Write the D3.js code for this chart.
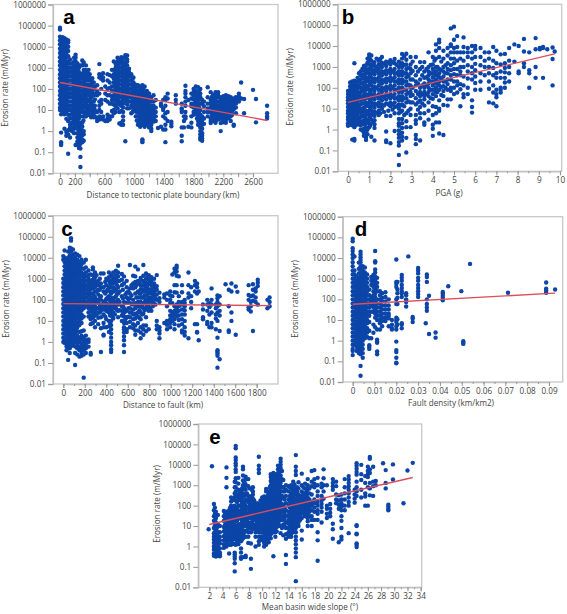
<!DOCTYPE html>
<html><head><meta charset="utf-8">
<script src="https://cdn.jsdelivr.net/npm/d3@7"></script>
<style>
html,body{margin:0;padding:0;background:#fff}
svg{display:block}
text{font-family:"Open Sans","Noto Sans",sans-serif;fill:#444}
</style></head><body><svg id="c" width="567" height="614"></svg>
<script>
const yTicks=[0.01,0.1,1,10,100,1000,10000,100000,1000000];
const yTitle="Erosion rate (m/Myr)";

// Each column: [x, rate, rate, ...]
const colsA=[
[0,80000,65000,30000,20000,13000,8000,5000,3200,2000,1300,800,500,320,200,130,80,50,32,20,13,10],
[15,25000,16000,10000,6300,4000,2500,1600,1000,630,400,250,160,100,63,40,25,16,10,6.3,.85,.3,.25,.22],
[35,28000,20000,13000,8000,5000,3200,2000,1300,800,500,320,200,130,80,50,32,20,13,8],
[60,25000,16000,10000,6300,4000,2500,1600,1000,630,400,250,160,100,63,40,25,16,10,6.3,1.3],
[85,22000,13000,8000,5000,3200,2000,1300,800,500,320,200,130,80,50,32,20,13,8,3.8,.9,.6],
[110,20000,16000,10000,6300,3500,2000,1600,1000,630,400,250,160,100,63,40,25,16,10,6,3,1.1,.7,.085],
[135,2500,1600,1000,630,400,250,160,100,63,40,25,16,10,6,4,2,1.4,.5],
[160,1600,1000,630,400,250,160,100,63,40,25,16,10,6.5,4,2.5,1.5,1],
[190,3000,2000,1300,800,500,320,200,130,80,50,32,20,13,8,5,3.2,2,1.3,.8],
[210,4200,3000,2000,1000,630,400,250,160,100,63,40,25,16,10,6.3,4,2.5,1.6,.22],
[235,1600,1300,800,500,320,200,130,80,50,32,20,13,8,5,3.2,2,1.3,.8,.5,.32,.25],
[255,1000,630,400,250,160,100,63,40,25,16,10,6.3,4,2.5,1.6,1,.63,.4,.3,.2,.16],
[275,1300,500,320,200,130,80,50,32,20,13,8,5,2.5,2,1.3,.8,.5,.32,.25,.15,.06,.02],
[300,2200,1300,500,320,200,130,80,40,25,16,10,2.5,1.6,1,.63,.4,.3],
[320,1800,800,400,200,100,63,32,16,8,5,1,.7,.35],
[350,1300,500,250,160,100,50,32,20,13,7,5],
[385,800,400,250,130,80,50,25,13,8,6],
[420,250,160,100,60,40,20,10,6,4.5],
[455,200,100,50,25,13,7,4.5],
[500,150,80,50,8,4,3],
[530,1500,500,350,60,25,16,10,5,3.5],
[555,400,300,100,30,20,8,4],
[580,550,350,250,5,3.5],
[610,130,60,30,3],
[640,500,250,100,50,25,6,4,3],
[670,450,200,110,50,20,5,3.5],
[700,800,400,130,80,45,30,20,9,5],
[725,2000,800,500,300,200,130,80,50,32,18,10,7],
[750,1500,1000,630,400,250,160,100,63,40,25,15,8],
[775,3000,2000,1300,800,500,320,200,130,80,50,32,20,12],
[800,2200,1600,1000,630,400,250,160,100,63,40,25,18,8,2.3],
[825,3200,2500,1600,1000,630,400,250,160,100,63,40,25,16,9,2,2.5],
[850,3000,2000,1300,800,500,320,200,130,80,50,32,20,13,8,5,3.2,2],
[880,4000,3000,1600,1000,630,400,250,160,100,63,40,25,.33],
[905,3800,2500,2000,1300,800,500,320,200,130,80,50,30,18,12],
[930,900,630,400,250,160,100,63,40,25,12],
[960,500,400,250,160,100,63,40,25,16,7],
[990,350,200,130,80,50,30,20,10],
[1020,160,100,63,40,25,15,9,5],
[1050,150,80,50,32,20,12,8,5,3,2],
[1080,130,100,63,40,25,16,10,6.3,4,2.5,1.6],
[1110,150,80,50,32,20,13,8,5,3.2,2,.4,.35,.3],
[1140,130,63,40,25,16,10,6.3,4,2.5,1.6],
[1170,80,50,32,20,13,8,5,3.2,2],
[1200,60,40,25,16,10,6.3,4,2.5,1.5],
[1230,40,25,13,8,5,3.2,2,1.3,1],
[1260,50,25,16,10,6.3,4,2.8],
[1290,30,13,8,5,3],
[1320,1.4],
[1360,16,20,1.6],
[1390,30,12,10,5,1.2],
[1420,40,30,16,7,4,2,1.2,.3],
[1450,60,35,8,3],
[1500,2.8,2.2,1.7],
[1560,50,30,20],
[1640,20,12,10,8,1.5,.6,.33],
[1670,5,3,1.5],
[1690,140,80,60,40,25,16,8,5,4],
[1730,30,1.6],
[1770,60,35,20,15,5,2.5,1.5],
[1800,100,70,50,32,20,13,8,6],
[1830,130,80,60,40,25,16,10,7],
[1860,120,60,40,30,20,13,8,5,3,2],
[1890,100,60,40,20,10,6,4,2.5,1.5,1,.7,.5,.4],
[1915,30,20,5,3.2,2,1.3,.8,.6,.45,.35],
[1940,25,15,8,4,2.2],
[1990,120,40,20,12,8,5],
[2030,70,30,20,13,8,4,3,2.4],
[2060,50,30,20,13,8,5,3],
[2095,70,45,30,18,12,8,6,4,3,2.5],
[2130,70,50,25,16,10,7,5,3.5],
[2165,30,20,13,9,6,4,2.4,1],
[2200,45,30,20,13,9,6,4,2.6],
[2235,50,35,20,13,8,5.5,3.5,2.5],
[2270,45,30,20,13,9,6,4],
[2300,40,25,16,10,7,5,3],
[2340,35,25,16,11,2,1.8],
[2370,40,30,20,13,7],
[2410,60,45,33,25],
[2440,200,35],
[2480,33,7],
[2600,90],[2640,33,2.6],[2790,16,7,5,4]
];
const colsA2=[
[315,600,300,130,70,40,25,13,8,5,3.2],[340,800,320,130,70,40,25,13,8,5],[370,600,320,160,100,63,32,16,10,6.3],
[400,500,320,160,100,63,32,16,10,6],[435,320,200,130,80,50,25,16,8],[470,130,60,32,16,10,5],
[980,320,200,130,80,50,32,20,13,8],[1035,130,80,50,32,20,13,8,5,3.2],[1095,100,63,40,25,16,10,6.3,4,2.5],
[1125,100,50,32,20,13,8,5,3.2,2],[1155,63,40,25,16,10,6.3,4,2.5],[1185,63,40,25,16,10,6.3,4,2.5],
[1215,40,25,16,10,6.3,4,2.5,1.6],[1845,63,40,25,16,10,6.3,4],[1875,80,50,32,20,13,8,5,3.2,2.5],
[2045,40,25,16,10,6,4],[2080,50,32,20,13,8,5],[2110,40,25,16,11,8,5],[2150,40,25,16,11,7,5],
[2185,40,25,16,11,7,5,3.5],[2220,32,20,13,9,6,4],[2255,40,25,16,11,7,5],[2285,32,20,13,9,6],[2320,32,20,13,9,6]
];
const lineA=[[0,200],[2790,3.2]];

const colsB=[
[0,70,50,35,25,18,12,8,6,4,3,2,1.5],
[.1,180,120,80,55,40,28,20,14,10,7,5,3.5,2.5,1.7],
[.2,200,130,90,60,40,28,20,14,10,7,5,3.5,2.5,1.6,.33],
[.3,1500,220,150,100,70,50,35,25,16,11,8,5.5,4,2.8,2,1.3,.35,.3],
[.45,300,200,130,90,60,40,28,20,14,10,7,5,3.5,2.5,1.8],
[.6,600,400,250,160,100,63,40,25,16,10,6.3,4,2.5,1.6,1],
[.75,1100,700,450,280,180,110,70,45,28,18,11,7,4.5,2.8,1.8,1.1,.7,.5],
[.85,1200,800,500,320,200,130,80,50,32,20,13,8,5,3.2,2,1.3,.8,.5,.4,.32],
[1,4000,3000,2000,1300,800,500,320,200,130,80,50,32,20,13,8,5,3.2,2,1.3],
[1.1,3500,2000,1200,800,500,300,200,130,80,50,32,20,13,8,5,3,.45],
[1.25,1700,1100,700,450,280,180,110,70,45,28,18,11,7,4.5,2.8,1.8,1.2,.3],
[1.45,2000,1300,800,500,320,200,130,80,50,32,20,13,8,5],
[1.6,3000,1600,1000,630,400,250,160,100,63,40,25,16,10],
[1.8,1800,1100,700,450,280,180,110,70,45,28,18,4.5,.8,.3,.25],
[2,2100,1300,800,500,320,200,130,80,50,32,20,13,4.5,.22],
[2.2,2400,1500,800,500,320,200,130,80,50,32,20,12,6,.85],
[2.4,1800,1000,630,400,250,160,100,63,40,25,16,10,6,3.2,2,1.5,.9,.6,.4,.25,.17,.06,.02],
[2.55,4200,2500,1500,1000,630,400,250,160,100,63,40,25,16,8,3.2,2,1.2,.7,.45,.3],
[2.75,4300,2200,1300,800,500,320,200,130,80,50,32,20,6,2.5,1.3,.4,.08],
[2.95,3000,1300,800,500,250,130,100,63,40,20,10,5,1.3],
[3.2,3000,1000,400,200,130,70,32,16,5,2.8,1.9,.55,.35,.2],
[3.4,1700,800,250,100,63,40,25,12,6,3.5,.3],
[3.6,1700,600,300,160,100,63,40,28,14,6,2.2,1.7],
[3.8,5000,1000,600,400,250,160,100,63,40,20,8,3],
[4,3000,1300,800,500,320,200,130,80,50,30,13,5,1.7,1.1,.5],
[4.15,12000,6000,2500,1000,630,400,250,160,100,63,40,12,6,2.2],
[4.3,20000,15000,8000,3000,800,500,320,200,130,80,25,10,8,2.2,.65],
[4.5,6000,2500,1000,600,350,200,120,70,40,15,.55],
[4.7,8000,3500,1500,800,500,250,150,80,28,14],
[4.85,70000,12000,10000,5000,2500,1200,700,400,250,100,70,28],
[5,85000,20000,8000,5000,2500,1500,800,450,200,100,50],
[5.15,30000,9000,5000,2000,800,400,200,130,60],
[5.3,5000,2500,1000,600,400,150,85,13],
[5.45,26000,9000,5000,2000,1000,350,130,50,35],
[5.65,8000,5000,3000,1200,600,280,100,50],
[5.85,10000,5000,2500,1000,500,250,6.5,12,25],
[6,10000,7000,3000,1400,700,350,170,80],
[6.25,8000,3000,1200,500,200,80],
[6.45,5000,2000,1000,400],
[6.65,5000,2500,1000,500,200,90,20],
[6.85,9000,2000,900,400,130,60,18],
[7,6000,1500,500,300,80,50,35,13],
[7.2,4000,1300,600,300,100,80,60],
[7.4,4200,1500,900,550,300,180,100],
[7.6,8000,2000,1000,500,200],
[7.85,12000,1800],
[8.05,10000,600,500],
[8.3,22000,5500,1000,1500],
[8.55,5000,700,500,100],
[8.85,24000,7000,1000,300],
[9.05,8000,7000],
[9.2,9000,8000,300],
[9.4,7000],
[9.65,8500,2400,130],
[9.75,5500]
];
const colsB2=[
[.05,40,20,10,5,2.5],[.15,60,30,15,8,4,2],[.38,150,80,40,22,12,6,3,1.7],[.52,500,220,110,55,28,14,7,3.5,1.8],
[.68,800,350,160,80,35,18,9,4.5,2.2,.9],[.92,2500,1600,640,260,100,40,16,6.3,2.5,1,.6],[1.05,2200,900,400,160,63,25,10,4,1.6],
[1.18,1400,560,220,90,36,14,6,2.3],[1.35,2500,1000,630,250,100,40,16,6.3],[1.52,2400,1250,500,200,80,32,13,6],
[1.7,1400,560,220,90,36,14,7],[1.9,1600,640,250,100,40,16,8],[2.1,1700,640,250,100,40,16,9],[2.3,1250,500,200,80,32,13],
[2.48,1400,560,220,90,36,14,7],[2.65,3200,1250,500,200,80,32,13,5],[2.85,900,360,140,56,22,8],[3.05,1800,640,250,100,45,20],
[3.3,600,160,50,20,9],[3.5,1000,400,130,50,18],[3.7,800,320,130,50],[3.9,1250,500,200,80,32],[4.08,2000,500,200,80],
[4.22,1000,400,160,63],[4.4,1800,700,280,110,45],[4.6,1200,500,200,100]
];
const lineB=[[0,20],[9.75,4200]];

const colsC=[
[0,12000,8000,1000,630,400,250,160,100,63,40,25,16,10,6.3,4,2.5,1.6,1],
[12,22000,10000,6300,4000,2500,1600,1000,630,400,250,160,100,63,40,25,16,10,6.3,4,2.5,1.3,.9],
[30,8000,5000,3200,2000,1300,800,500,320,200,130,80,50,32,20,13,8,5,3.2,2,1.3,.8,.6,.4],
[45,20000,10000,6300,4000,2500,1600,1000,630,400,250,160,100,63,40,25,16,10,6.3,4,2.5,1.6,1,.6,.14],
[60,30000,20000,13000,8000,5000,3200,2000,1300,800,500,320,200,130,80,50,32,20,13,8,5,3.2,2,1.3,.8,.5,.3],
[72,85000,65000,28000,20000,10000,6300,4000,2500,1600,1000,630,400,250,160,100,63,40,25,16,10,6.3,4,2.5,1.6,1,.63],
[90,25000,14000,8000,5000,3200,2000,1300,800,500,320,200,130,80,50,32,20,13,8,5,3.2,2,1.3,.8],
[110,16000,10000,6300,4000,2500,1600,1000,630,400,250,160,100,63,40,25,16,10,6.3,4,2.5,1.6,1,.6,.3,.08],
[130,14000,8000,5000,3200,2000,1300,800,500,320,200,130,80,50,32,20,13,8,5,3.2,2,1.3,.8,.5,.25],
[150,12000,6300,4000,2500,1600,1000,630,400,250,160,100,63,40,25,16,10,6.3,3,1.6,1,.6,.4,.2],
[170,8000,5000,3200,2000,1300,800,500,320,200,130,80,50,32,20,13,8,3.2,2,1.3,.8,.5,.3,.22],
[190,6000,3000,1600,1000,630,400,250,160,100,63,40,16,3.5,1.6,1,.63,.4,.25,.02],
[210,8000,3500,2000,1300,800,500,320,200,130,80,50,2,1.2,.8,.5,.3],
[235,2500,1500,1000,630,400,250,160,100,63,40,25,16,1.3,1,.6],
[255,1600,800,500,320,200,130,80,50,30,18,12,7,.3,.25],
[275,3500,2800,1500,900,600,350,200,100,60,40,25,14,8],
[295,2000,1200,800,400,250,130,80,50,30,20,5,10],
[325,800,500,300,180,100,70,40,25,14,7],
[350,1800,600,400,150,100,60,40,30,15,4.5,.33],
[375,1800,400,250,80,50,35,20,8,5,2.2,2],
[400,1000,500,250,110,65,45,30,12,5],
[425,2000,1200,800,400,150,100,60,40,25,10,5.5,3],
[445,1500,800,400,200,130,80,50,32,20,10,6.3,4,2.5,1.6,1,.7,.45,.33],
[465,2000,1000,630,400,250,100,63,40,25,13],
[490,2400,1500,1000,630,300,150,80,40],
[510,4200,2000,1300,800,400,200,100,60,30,15],
[545,1700,900,500,150,50,30,18,10],
[565,1300,600,80,40,25,16,8,5,4,2.8,1.8,1.2,.7,.33],
[590,800,400,220,130,70,30,15,8,4,3],
[620,4500,350,200,120,70,40,25,15,9,5],
[650,1400,600,350,100,60,35,20,12,7,4.5],
[670,3800,1300,700,400,200,70,40,22,13,6,3.5,2.2],
[695,2800,800,250,130,80,50,25,16,8,3.5],
[720,1100,500,320,200,130,80,50,25,12,5,2.8,1.5],
[745,4500,1400,800,500,250,130,70,40,22,6,4,2.2],
[770,1800,1000,630,400,250,160,100,63,40,15,6,3.2],
[795,1500,900,600,320,200,130,80,50,30,4],
[820,1200,800,500,320,200,130,80,30],
[845,1000,600,400,250,160,100,63],
[870,1500,450,300,180,100,10,6,4],
[895,220,120,80,5,3.5,2.5,1.5],
[940,180,130,8],
[965,200,100,50,10,6.5,4],
[995,250,160,100,70,30,18,12,8,5],
[1015,1600,150,70,25,16,10],
[1035,3000,2000,500,230,50,30,20,12,7,4],
[1055,4200,3300,2200,1400,500,220,60,40,25,16],
[1075,1300,150,80,50,30,18,11,6],
[1105,500,230,80,60,35,20,12,7,3.5,2.8],
[1130,100,70,50,32,20,10,5,3,2],
[1165,2000,500,200,130,1.5],
[1190,400,150,80,40],
[1225,800,500,250,7],
[1245,600,400,200,7,3,2.8],
[1260,250,1.2],
[1300,60,35,15,12],
[1340,100,60,30,9,7],
[1360,70,45,20,5],
[1380,350,100,60,25,8,5],
[1420,60,40,20,13,4],
[1435,160,120,80,50,25,10,1.6,.4,.33,.28,.22,.06],
[1455,150,60,30,18,3.3,.15],
[1510,550],[1540,300,50,3.5,3],
[1565,600,250,25,10],
[1605,430,2.2],[1620,240],
[1725,500,170,100,45,35],
[1745,150,80,50,28],
[1765,550,300,160,90,3.3],
[1790,350,250,130,80],
[1810,900,650,450,60],
[1900,100,40],[1920,130,80,50]
];
const colsC2=[
[285,1000,500,160,63,25,16],[310,1500,630,250,100,40,20],[340,1000,300,120,50,25],[390,700,200,90,40,16],[412,300,130,60,28],
[435,600,250,100,40,18,8],[455,1300,630,250,100,40,16],[480,800,320,130,50,20],[500,1300,500,200,80,32],[525,800,250,80,32],
[555,300,120,50,20],[578,180,70,28,12],[605,250,100,40,16],[635,500,160,63,25],[680,500,130,50,18],[708,600,200,80,32,14],
[733,800,320,130,50,20],[758,600,320,160,80,32],[783,1300,500,250,100,50],[808,700,250,100,40],[833,450,200,100,50],[858,300,120,60]
];
const lineC=[[0,66],[1925,53]];

const colsD=[
[0,85000,65000,30000,22000,15000,10000,6300,4000,2500,1600,1000,630,400,250,160,100,63,40,25,16,10,6.3,4,2.5,1.6,1,.63,.4,.32,.2],
[.0008,12000,2500,1600,1000,630,400,250,160,100,63,40,25,16,10,6.3,4,2.5,1.6,1,.63],
[.0018,1300,800,500,320,200,130,80,50,32,20,13,8,5,3.2,2,1.3,.8,.5,.32],
[.0028,6000,3000,1800,1000,630,400,250,160,100,63,40,25,16,10,6.3,4,2.5,1.6,1,.63,.4,.25],
[.0036,20000,15000,11000,8000,6000,4000,3000,2000,1300,800,500,320,200,130,80,50,32,20,13,8,5,3.2,2,1.3,.8,.5,.32,.22,.02,.06],
[.0046,4000,2500,1600,1000,630,400,250,160,100,63,40,25,16,10,6.3,4,2.5,1.6,1,.63,.4,.25,.15],
[.0056,3500,2000,1300,800,500,320,200,130,80,50,32,20,13,8,5,3,2,1.3],
[.0066,1600,1000,630,400,250,160,100,63,40,25,16,10,7,4,2.5,1.5],
[.0076,300,160,100,63,40,25,16,8,3,1.3,.6,.5,.4],
[.0085,1200,800,500,130,80,50,25,1.3],
[.0095,1500,1000,630,400,250,160,100,63,40,25,6,2.4],
[.0103,22000,7000,6000,2800,2000,1300,800,500,320,200,130,80,50,32,20,13,4.5],
[.0112,1100,630,400,250,100,63,40,25,16,10,3.5,1.1,.9,.8,.3,.22],
[.0125,250,160,100,63,40,25,16,10,7,3.5],
[.0135,200,120,80,50,32,20,13,9,5],
[.015,220,130,80,50,32,20,13,9],
[.0165,100,50,32,20,16,12,5],
[.018,10,6,4,3.5],
[.02,8500,700,550,400,100,60,13,10,8,5,3.5,.9,.35,.28,.15,.085,.08],
[.0205,700,300,200,120,60,11,6],
[.0225,1500,1100,800,500,350,250,200,130,7,6,4],
[.0245,200,160,100,75,45],
[.0255,12000],
[.0275,14,12,8],
[.03,3300,2500,1800,1100,800,500,350,250,180,130],
[.0335,7],
[.034,1600,1200,700,100,60,40,28],
[.035,150,2.1],
[.038,2.5,1.4],
[.0413,230,190,150,120,90],
[.0438,430],
[.0498,250],
[.0507,.95,.8,.7],
[.0538,5200],
[.0712,210],
[.0887,650,330,270,210],
[.0928,300]
];
const lineD=[[0,58],[.0928,200]];

const colsE=[
[1.9,7],[2.4,8500],
[2.7,120,60,30,18,8,4.5,3,2.2,1.5,1,.7,.45,.35],
[3,50,25,15,9,6,4,2.8,2,1.4,1,.7,.45,.32],
[3.3,35,12,5,3.2,2.2,1.5,1,.7,.5,.35],
[3.6,10,5,3,2,1.4,.8,.5,.4,.33],
[4.2,55,30,18,9,5.5,3.2,2,1.3,.85],
[4.6,7500,2300,800,50,30,18,10,6,4,2.5,1.5,1],
[5,60,35,20,12,7.5,4.5,3,1.9,1.2,.45],
[5.3,250,160,100,50,30,18,8,5,3,1.9,1.2],
[5.6,50,30,18,10,6,3.5,2.2,1.4],
[5.85,1500,800,400,250,100,40,25,12,7,4,2.5,1.3,.5,.4,.32,.25,.15,.06],
[6,85000,65000,23000,17000,12000,9000,6000,4500,2200,1400,800,500,320,180,80,50,30,18,10,6,3.8,2.4,1.2],
[6.4,2300,1200,600,350,250,100,50,25,12,7,4,2.3,1.3],
[6.8,500,300,180,100,60,35,22,13,8,5,3,1.8,.8,.5,.3,.25],
[7.1,8000,6000,3000,1700,1000,630,400,250,160,100,63,40,25,16,10,6.3,4,2.5,.3],
[7.5,2600,1900,1100,600,350,180,100,50,25,12,6,3,.35,.3],
[7.9,2000,900,300,150,80,40,25,15,8,5,3,1.5],
[8.3,230,120,70,40,25,15,8,5,1.4,.25,.08],
[8.6,800,500,350,220,130,80,50,32,20,12,7],
[9,100,70,50,30,20,12,8,5,3,1],
[9.5,25000,9000,6000,4000,100,70,50,32,20,13,8,5,3,1.8,1.2],
[10,250,150,100,70,50,32,20,13,8,5,3],
[10.3,280,200,130,80,50,32,20,13,8,5,3,2,1.5,1],
[10.6,650,500,250,150,100,65,40,25,16,10,6.3,4,2.5,1.6,1.2],
[11,400,250,160,100,63,40,25,16,10,6.3,4,2.5,1.6],
[11.3,3500,2500,1600,1000,630,400,250,160,100,63,40,25,16,10,6.3,4,2.5],
[11.7,4000,2800,1800,1200,800,500,320,200,130,80,50,32,20,13,8,5,.33],
[12,3000,1900,1300,800,500,320,200,130,80,50,32,20,13,8,5,3],
[12.4,9000,6000,4000,2500,1600,1000,630,400,250,160,100,63,40,25,16,10],
[12.8,20000,14000,10000,7000,5000,3000,2000,1300,800,500,320,200,130,80,50,32,20,10,4.5],
[13.2,1800,800,500,250,100,60,30,12,3.5],
[13.6,1000,600,300,130,60,30,15,8,4,2.4,.38,.14],
[14,900,500,200,100,50,32,20,13,8,5,3],
[14.4,1000,700,400,250,160,100,63,40,25,16,10,7,4.5,3],
[14.7,1500,900,500,250,130,80,50,32,20,13,8,5],
[15.1,30000,8000,5000,3200,600,350,200,130,80,50,32,20,13,8,5,3,2,1.3,.8,.5,.3,.02],
[15.5,1400,700,350,200,120,70,40,25,15,10],
[16,3700,1000,500,300,200,130,80,50,25,6,2.2],
[16.5,1200,700,350,200,120,80,50,30],
[16.9,2000,1000,650,400,250,160,100,63,40,25,17,10],
[17.5,5000,1500,900,350,150,100,60,30,20,10],
[17.9,5500,2000,1200,800,200,130,80,50,20],
[18.4,2300,1000,500,300,150,100,60,40,20,5,2,.2],
[19,1200,800,300,180,120,80,50,15],
[19.3,6000,2200,1000,500,220],
[19.8,1000,100,70,40,25],
[20.3,120,70,45,30],
[20.7,2000,1300,900,600,13,7,2.4],
[21.2,1500,900,350,200,130],
[21.6,320,180,110,70,1.6],
[22,350,200,130,90,60,30,18,8,3,2.2],
[22.5,2000,800,400,200,100,60],
[23.1,2800,1900,1300,900,600,400,250,150,100,4.5],
[24,600,350,220,140],
[24.3,12000,9000,6500,4500,3300,1500,800,500,300,11,10,4.2,4,1.4,1.2,.95],
[25,10000,3500,1800,600,250],
[25.6,2800,1300,400,280,100],
[26,8000,5000,3500,2500,800,100],
[26.3,24000,20000,6000,4000,1300,700,320],
[26.8,8000,1500,900,300],
[27.2,1600,1000],
[28.3,12000],[28.7,5500,1300,700],
[29.1,110,90,70,60],
[29.8,10500,1900],
[31.4,130],[32,5300],[32.8,12500]
];
const colsE2=[
[2.85,80,40,20,11,5,3.6,2.5],[3.15,8,3.5,2.4,1.7,1.2,.8,.55],[4.4,40,22,12,7,4,2.4],[4.8,45,25,14,8,5,3.2,2],
[5.15,80,45,25,14,8,5,3],[5.45,180,70,40,22,12,7,4,2.4],[5.7,70,40,22,12,8,5,3],[6.2,300,150,70,35,18,9,5,3,1.7],
[6.6,400,200,100,50,25,12,6,3],[6.95,700,250,130,70,40,18,10,6,3.5,2.2],[7.3,1400,800,300,130,70,35,18,10,5],
[7.7,400,200,70,35,18,10,6],[8.1,700,200,100,50,30,12],[8.45,600,300,160,100,60,40,25,15],[8.8,180,120,80,50,30,20,10],
[9.25,130,80,60,40,25,16,10,6],[9.75,180,120,80,50,30,20,12,8,5,3,2],[10.15,200,130,80,50,32,20,13,8,5,3,2],
[10.45,160,100,65,40,25,16,10,6.3,4,2.5,1.6],[10.8,300,200,130,80,50,32,20,13,8,5,3,2],
[11.15,800,500,320,200,130,80,50,32,20,13,8,5,3],[11.5,3000,2000,1300,800,500,320,200,130,80,50,32,20,13,8,5],
[11.85,3400,2200,1500,1000,630,400,250,160,100,63,40,25,16,10,6],[12.2,3500,2200,1400,900,560,360,220,140,90,56,36,22,14,9,5.5],
[12.6,7000,4500,2800,1800,1100,700,450,280,180,110,70,45,28,18,11],[13,5000,2000,800,300,120,50,20,8],[13.4,500,200,80,40,20,10],
[14.2,800,300,150,80,40,22,12,7,4.5],[14.55,600,350,220,140,90,56,36,22,14],[14.9,1100,700,400,200,100,60,40,25,16,10,6],
[15.3,800,500,250,130,80,50,32,20,13],[15.75,300,160,100,60,35,20],[16.25,800,400,250,150,100,65,40],
[16.7,500,300,180,120,70,50,30],[17.15,700,400,200,130,80,50,30]
];
const lineE=[[2,12],[32.8,2400]];

const xTicksA=[0,200,400,600,800,1000,1200,1400,1600,1800,2000,2200,2400,2600];
const xLabelsA=[0,200,600,1000,1400,1800,2200,2600];
const xTicksB=[0,1,2,3,4,5,6,7,8,9,10];
const xTicksC=[0,200,400,600,800,1000,1200,1400,1600,1800];
const xTicksD=[0,.01,.02,.03,.04,.05,.06,.07,.08,.09];
const xTicksE=[2,4,6,8,10,12,14,16,18,20,22,24,26,28,30,32,34];

const panels=[
{id:"a",cols:[...colsA,...colsA2],line:lineA,xr:[0,2600],px:[60,253],top:4.5,bot:173.3,l:53,r:278,
 xTicks:xTicksA,xLabels:xLabelsA,step:100,title:"Distance to tectonic plate boundary (km)",tx:163,ty:198,yt:[5,88],lab:[69,24]},
{id:"b",cols:[...colsB,...colsB2],line:lineB,xr:[0,10],px:[348,560],top:4.3,bot:171.3,l:337.7,r:561.7,
 xTicks:xTicksB,xLabels:xTicksB,step:.5,title:"PGA (g)",tx:449,ty:196,yt:[290,87],lab:[348,24]},
{id:"c",cols:[...colsC,...colsC2],line:lineC,xr:[0,1800],px:[63.3,256.7],top:215.7,bot:384,l:53,r:278,
 xTicks:xTicksC,xLabels:xTicksC,step:100,title:"Distance to fault (km)",tx:163,ty:408,yt:[6,299],lab:[67,236]},
{id:"d",cols:colsD,line:lineD,xr:[0,.09],px:[352.7,549],top:216.7,bot:382,l:342.7,r:562.7,
 xTicks:xTicksD,xLabels:xTicksD,step:.005,title:"Fault density (km/km2)",tx:451,ty:406,yt:[295,299],lab:[361,236]},
{id:"e",cols:[...colsE,...colsE2],line:lineE,xr:[2,34],px:[209.3,420.7],top:424,bot:587.3,l:198.3,r:421.7,
 xTicks:xTicksE,xLabels:xTicksE,step:1,title:"Mean basin wide slope (°)",tx:310,ty:610,yt:[157,504],lab:[215,444]}
];

const svg=d3.select("#c");
panels.forEach(p=>{
  const g=svg.append("g");
  const x=d3.scaleLinear().domain(p.xr).range(p.px);
  const y=d3.scaleLog().domain([0.01,1000000]).range([p.bot,p.top]);
  g.append("rect").attr("x",p.l).attr("y",p.top).attr("width",p.r-p.l).attr("height",p.bot-p.top)
   .attr("fill","#fff").attr("stroke","#c8c8c8").attr("stroke-width",1.3);
  const ay=d3.axisLeft(y).tickValues(yTicks).tickFormat(d=>String(d)).tickSize(5).tickPadding(2);
  const gy=g.append("g").attr("transform",`translate(${p.l},0)`).call(ay);
  const ax=d3.axisBottom(x).tickValues(p.xTicks).tickFormat(d=>p.xLabels.includes(d)?String(d):"").tickSize(4).tickPadding(2);
  const gx=g.append("g").attr("transform",`translate(0,${p.bot})`).call(ax);
  const minor=d3.range(p.xr[0],p.xr[1]+p.step/2,p.step).filter(v=>v<=p.xr[1]);
  const gm=g.append("g").attr("transform",`translate(0,${p.bot})`).call(d3.axisBottom(x).tickValues(minor).tickFormat("").tickSize(2));
  gm.select(".domain").remove();
  gm.selectAll("line").attr("stroke","#999");
  [gx,gy].forEach(a=>{a.select(".domain").attr("stroke","#c0c0c0").attr("stroke-width",1.3);a.selectAll("line").attr("stroke","#999");
    a.selectAll("text").style("font-size","8.2px").style("fill","#444");});
  const pts=p.cols.flatMap(c=>c.slice(1).map(v=>[c[0],v]));
  g.append("g").selectAll("circle").data(pts).join("circle")
   .attr("cx",d=>x(d[0])).attr("cy",d=>y(d[1])).attr("r",2.2).attr("fill","#0b45a8");
  const ln=d3.line().x(d=>x(d[0])).y(d=>y(d[1]));
  g.append("path").attr("d",ln(p.line)).attr("fill","none").attr("stroke","#db4f5c").attr("stroke-width",1.4);
  g.append("text").attr("x",p.tx).attr("y",p.ty).attr("text-anchor","middle").style("font-size","8.1px").text(p.title);
  g.append("text").attr("transform",`translate(${p.yt[0]},${p.yt[1]}) rotate(-90)`).attr("text-anchor","middle").attr("dy","0.35em").style("font-size","8.1px").text(yTitle);
  g.append("text").attr("x",p.lab[0]).attr("y",p.lab[1]).attr("text-anchor","middle")
   .style("font-family","'Liberation Sans',Arial,sans-serif").style("font-weight","700").style("font-size","20.5px").style("fill","#000").text(p.id);
});
</script></body></html>
